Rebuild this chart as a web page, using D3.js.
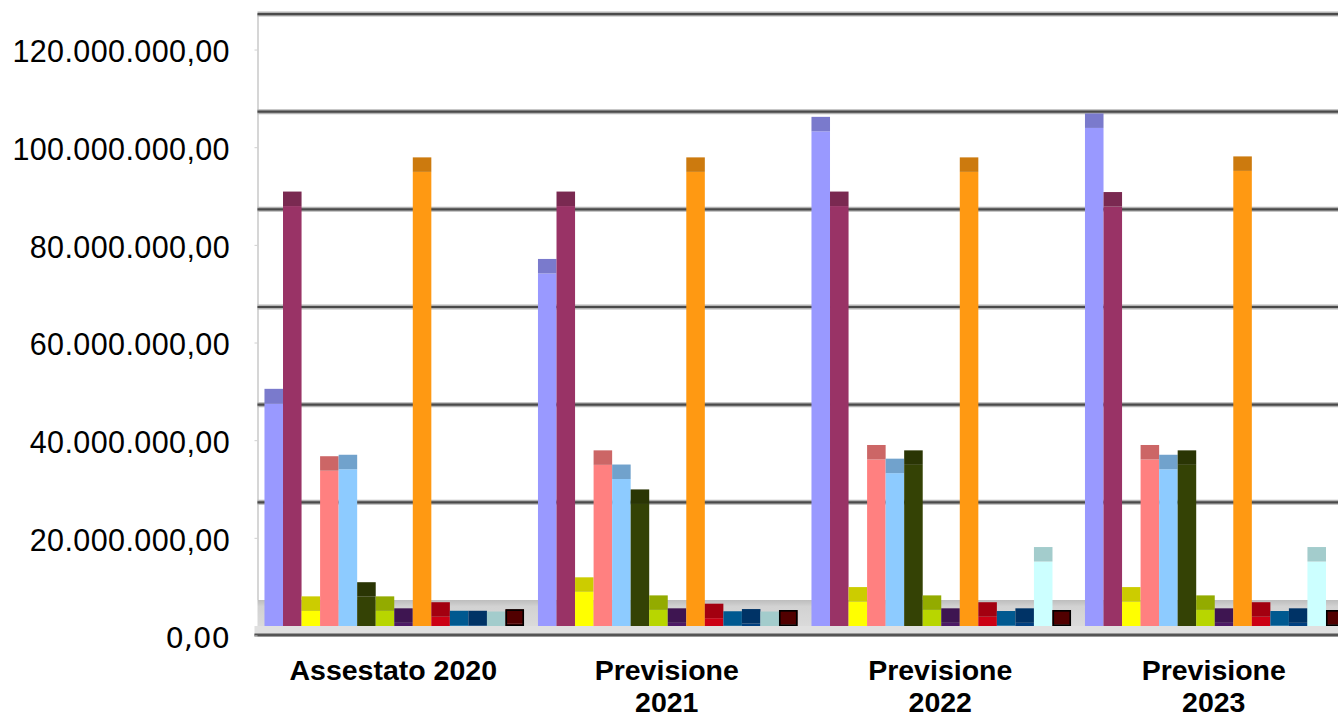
<!DOCTYPE html>
<html>
<head>
<meta charset="utf-8">
<script src="https://cdn.jsdelivr.net/npm/d3@7"></script>
<style>
  body { margin: 0; background: #fff; }
  svg { display: block; }
  .ylab { font-family: "Liberation Sans", Arial, sans-serif; font-size: 30.5px; letter-spacing: 0.4px; fill: #000; }
  .xlab { font-family: "Liberation Sans", Arial, sans-serif; font-size: 28.5px; font-weight: bold; fill: #000; }
</style>
</head>
<body>
<svg width="1338" height="719"></svg>
<script>
// categories and series
var categories = ["Assestato 2020", "Previsione 2021", "Previsione 2022", "Previsione 2023"];
var series = ["Voce 1", "Voce 2", "Voce 3", "Voce 4", "Voce 5", "Voce 6", "Voce 7",
              "Voce 8", "Voce 9", "Voce 10", "Voce 11", "Voce 12", "Voce 13", "Voce 14"];
var colors = ["#9999ff", "#993366", "#ffff00", "#ff8080", "#8dcbff", "#344205", "#b8d600",
              "#4d1a66", "#ff9912", "#cc0014", "#0070b4", "#004080", "#ccffff", "#660000"];

// values (millions), one array per category, same order as series
var val2020 = [45.6, 86.0, 3.1, 31.8, 32.1, 6.0, 3.1, 0.65, 93.0, 1.9, 0.15, 0.15, 0.0, 0.45];
var val2021 = [72.2, 86.0, 7.0, 33.0, 30.1, 25.0, 3.3, 0.65, 93.0, 1.6, 0.05, 0.5, 0.0, 0.3];
var val2022 = [101.3, 86.0, 5.0, 34.1, 31.3, 33.0, 3.3, 0.65, 93.0, 1.9, 0.1, 0.65, 13.2, 0.3];
var val2023 = [102.0, 85.9, 5.0, 34.1, 32.1, 33.0, 3.3, 0.65, 93.2, 1.9, 0.1, 0.65, 13.2, 0.3];
var yTicks = [0, 20, 40, 60, 80, 100, 120];

var values = [val2020, val2021, val2022, val2023];

var svg = d3.select("svg");

var depth = 26,      // back wall offset (3d effect)
    topFace = 14.5,  // height of the darker bar top
    left = 257.5;

var x0 = d3.scaleBand().domain(categories)
    .range([left, left + 4 * 273.5])
    .paddingInner(0.051).paddingOuter(0.0255);
var x1 = d3.scaleBand().domain(series).range([0, x0.bandwidth()]);
var y = d3.scaleLinear().domain([0, 120]).range([626, 626 - 120 * 4.883]);

var fmt = d3.formatLocale({decimal: ",", thousands: ".", grouping: [3], currency: ["", "€"]}).format(",.2f");

// left wall edge
svg.append("line")
    .attr("x1", left + 0.5).attr("x2", left + 0.5)
    .attr("y1", y(120) - depth).attr("y2", y(0) - depth)
    .attr("stroke", "#c8c8c8").attr("stroke-width", 1.5);

// back wall gridlines
var grid = svg.append("g");
yTicks.filter(function(d) { return d > 0; }).forEach(function(t) {
  grid.append("line")
      .attr("x1", left).attr("x2", 1338)
      .attr("y1", y(t) - depth).attr("y2", y(t) - depth)
      .attr("stroke", "#b4b4b4").attr("stroke-width", 5);
  grid.append("line")
      .attr("x1", left).attr("x2", 1338)
      .attr("y1", y(t) - depth).attr("y2", y(t) - depth)
      .attr("stroke", "#4a4a4a").attr("stroke-width", 2.2);
});

// floor
var defs = svg.append("defs");
var grad = defs.append("linearGradient").attr("id", "floor")
    .attr("x1", 0).attr("x2", 0).attr("y1", 0).attr("y2", 1);
grad.append("stop").attr("offset", "0%").attr("stop-color", "#bdbdbd");
grad.append("stop").attr("offset", "25%").attr("stop-color", "#d2d2d2");
grad.append("stop").attr("offset", "100%").attr("stop-color", "#dadada");

svg.append("rect")
    .attr("x", left).attr("y", y(0) - depth)
    .attr("width", 1338 - left).attr("height", depth)
    .attr("fill", "url(#floor)");
svg.append("rect")
    .attr("x", left - 3).attr("y", y(0))
    .attr("width", 1338 - left + 3).attr("height", 8)
    .attr("fill", "#e0e0e0");
svg.append("line")
    .attr("x1", left - 3).attr("x2", 1338)
    .attr("y1", y(0) + 9).attr("y2", y(0) + 9)
    .attr("stroke", "#9a9a9a").attr("stroke-width", 4);
svg.append("line")
    .attr("x1", left - 3).attr("x2", 1338)
    .attr("y1", y(0) + 9).attr("y2", y(0) + 9)
    .attr("stroke", "#555").attr("stroke-width", 1.8);

// bars
var groups = svg.append("g").selectAll("g")
  .data(categories)
  .enter().append("g")
    .attr("transform", function(d) { return "translate(" + x0(d) + ",0)"; });

var bars = groups.selectAll("g")
  .data(function(d, i) {
    return series.map(function(s, j) { return {key: s, value: values[i][j], color: colors[j]}; });
  })
  .enter().append("g");

bars.append("rect")
    .attr("x", function(d) { return x1(d.key); })
    .attr("y", function(d) { return y(d.value); })
    .attr("width", x1.bandwidth())
    .attr("height", function(d) { return y(0) - y(d.value); })
    .attr("fill", function(d) { return d.color; });

bars.append("rect")
    .attr("x", function(d) { return x1(d.key); })
    .attr("y", function(d) { return y(d.value) - topFace; })
    .attr("width", x1.bandwidth())
    .attr("height", topFace)
    .attr("fill", function(d) { return d3.rgb(d.color).darker(0.63); });

// last series has a black outline
bars.filter(function(d) { return d.key === series[series.length - 1]; })
  .append("rect")
    .attr("x", function(d) { return x1(d.key) + 0.8; })
    .attr("y", function(d) { return y(d.value) - topFace + 0.8; })
    .attr("width", x1.bandwidth() - 1.6)
    .attr("height", function(d) { return y(0) - y(d.value) + topFace - 1.6; })
    .attr("fill", "none")
    .attr("stroke", "#000").attr("stroke-width", 1.6);

// y labels
svg.append("g").selectAll("text")
  .data(yTicks)
  .enter().append("text")
    .attr("class", "ylab")
    .attr("x", 230)
    .attr("y", function(d) { return y(d) + 11.5; })
    .attr("dy", "0.35em")
    .attr("text-anchor", "end")
    .style("font-family", function(d) { return d === 0 ? "DejaVu Sans" : null; })
    .style("font-size", function(d) { return d === 0 ? "29px" : null; })
    .style("letter-spacing", function(d) { return d === 0 ? "0px" : null; })
    .text(function(d) { return fmt(d * 1e6); });

// small ticks on the wall edge
svg.append("g").selectAll("line")
  .data(yTicks)
  .enter().append("line")
    .attr("x1", left - 3).attr("x2", left)
    .attr("y1", function(d) { return y(d) + 10; })
    .attr("y2", function(d) { return y(d) + 10; })
    .attr("stroke", "#d0d0d0").attr("stroke-width", 1);

// x labels
var xl = svg.append("g").selectAll("text")
  .data(categories)
  .enter().append("text")
    .attr("class", "xlab")
    .attr("text-anchor", "middle")
    .attr("y", 680);

xl.each(function(d, i) {
  var t = d3.select(this);
  var cx = x0(d) + x0.bandwidth() / 2 - 1;
  var lines = i === 0 ? [d] : d.split(" ");
  lines.forEach(function(l, k) {
    t.append("tspan").attr("x", cx).attr("dy", k === 0 ? 0 : 32).text(l);
  });
});
</script>
</body>
</html>
